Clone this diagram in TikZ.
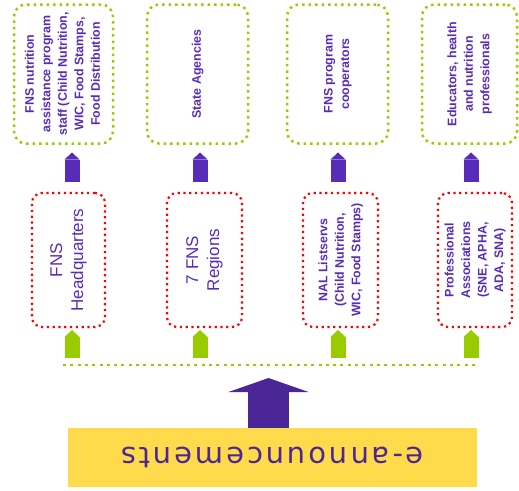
\documentclass[tikz,border=0pt]{standalone}
\usepackage{fontspec}
\setmainfont{Liberation Sans}
\newfontfamily\bannerfont[LetterSpace=10]{DejaVu Sans}
\usepackage{xcolor}
\usepackage{graphicx}
\usetikzlibrary{arrows.meta,positioning}
\definecolor{mygreen}{RGB}{153,204,0}
\definecolor{myred}{RGB}{255,0,0}
\definecolor{mypurple}{RGB}{88,44,185}
\definecolor{mydarkpurple}{RGB}{75,38,150}
\definecolor{myyellow}{RGB}{255,218,75}
\newcommand{\vtext}[1]{\rotatebox{90}{\begin{tabular}{@{}c@{}}#1\end{tabular}}}

\begin{document}
\begin{tikzpicture}[x=1pt,y=-1pt,
    greenbox/.style={draw=mygreen,line width=2.5pt,dash pattern=on 2.5pt off 4pt,rounded corners=12pt,
        minimum height=139pt,inner sep=0pt,outer sep=0pt,text=mypurple,font=\fontsize{12.4}{16.5}\selectfont\bfseries},
    redbox/.style={draw=myred,line width=2.2pt,dash pattern=on 2.2pt off 3.6pt,rounded corners=10pt,
        minimum height=134pt,inner sep=0pt,outer sep=0pt,text=mypurple,font=\fontsize{12.4}{16.5}\selectfont\bfseries},
    bigtext/.style={font=\fontsize{17}{21}\selectfont},
    uparrow/.style={line width=15pt,-{Triangle[width=15pt,length=7pt,line width=0pt]}},
    bigarrow/.style={mydarkpurple,line width=41pt,-{Triangle[width=80pt,length=14pt,line width=0pt]}}]
    \useasboundingbox (0,0) rectangle (519,490);

    % audiences
    \node[greenbox,minimum width=99pt] (g1) at (63.5,74) {\vtext{FNS nutrition\\assistance program\\staff (Child Nutrition,\\WIC, Food Stamps,\\Food Distribution}};
    \node[greenbox,minimum width=101pt] (g2) at (197.5,74) {\vtext{State Agencies}};
    \node[greenbox,minimum width=101pt] (g3) at (337.5,74) {\vtext{FNS program\\cooperators}};
    \node[greenbox,minimum width=95pt] (g4) at (469.5,74) {\vtext{Educators, health\\and nutrition\\professionals}};

    % channels
    \node[redbox,bigtext,minimum width=73pt] (r1) at (68.5,260) {\vtext{FNS\\Headquarters}};
    \node[redbox,bigtext,minimum width=75pt] (r2) at (204.5,260) {\vtext{7 FNS\\Regions}};
    \node[redbox,minimum width=75pt] (r3) at (340.5,260) {\vtext{NAL Listservs\\(Child Nutrition,\\WIC, Food Stamps)}};
    \node[redbox,minimum width=74pt] (r4) at (475,260) {\vtext{Professional\\Associations\\(SNE, APHA,\\ADA, SNA)}};

    % source
    \node[fill=myyellow,minimum width=409pt,minimum height=59pt,inner sep=0pt] (ann) at (272.5,457.5)
        {\rotatebox{180}{\bannerfont\fontsize{29}{30}\selectfont\color{mydarkpurple}e-announcements}};

    % distribution line
    \coordinate (lstart) at (63,365);
    \coordinate (lend) at (477,365);
    \coordinate (b0) at (268.5,365);
    \coordinate (b1) at (72,365);
    \coordinate (b2) at (200,365);
    \coordinate (b3) at (338,365);
    \coordinate (b4) at (471,365);
    \draw[mygreen,line width=2.5pt,dash pattern=on 3pt off 4.3pt] (lstart) -- (lend);

    % arrows
    \draw[bigarrow,shorten >=13pt] (ann.north -| b0) -- (b0);
    \foreach \i in {1,...,4}{
        \draw[uparrow,mygreen,shorten <=7pt,shorten >=3pt] (b\i) -- (b\i |- r\i.south);
        \draw[uparrow,mypurple,shorten <=11pt,shorten >=9pt] (b\i |- r\i.north) -- (b\i |- g\i.south);
    }
\end{tikzpicture}
\end{document}
